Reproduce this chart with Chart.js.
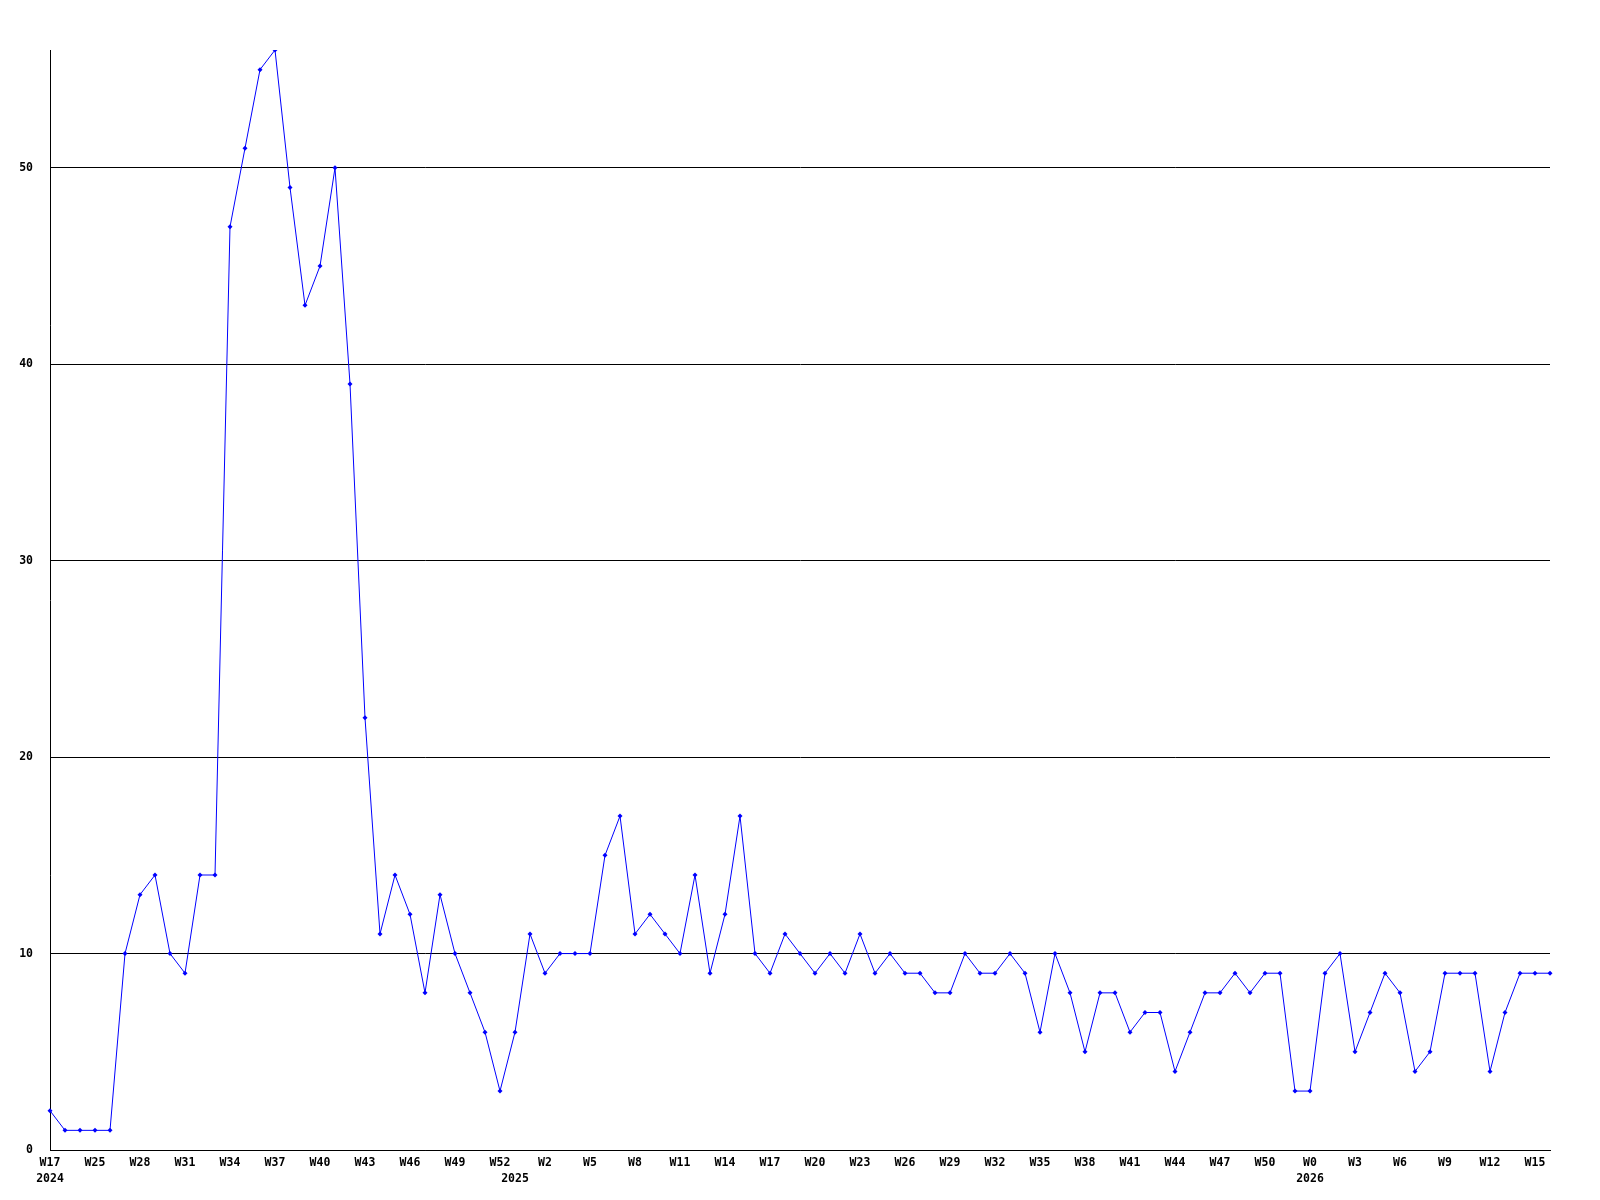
<!DOCTYPE html>
<html>
<head>
<meta charset="utf-8">
<script src="https://cdn.jsdelivr.net/npm/chart.js@4/dist/chart.umd.min.js"></script>
<style>
  body { margin: 0; background: #fff; }
  #chart { display: block; }
</style>
</head>
<body>
<canvas id="chart" width="1600" height="1200"></canvas>
<script>
var weeks = [
  "W17", "W23", "W24", "W25", "W26", "W27", "W28", "W29", "W30", "W31",
  "W32", "W33", "W34", "W35", "W36", "W37", "W38", "W39", "W40", "W41",
  "W42", "W43", "W44", "W45", "W46", "W47", "W48", "W49", "W50", "W51",
  "W52", "W0", "W1", "W2", "W3", "W4", "W5", "W6", "W7", "W8",
  "W9", "W10", "W11", "W12", "W13", "W14", "W15", "W16", "W17", "W18",
  "W19", "W20", "W21", "W22", "W23", "W24", "W25", "W26", "W27", "W28",
  "W29", "W30", "W31", "W32", "W33", "W34", "W35", "W36", "W37", "W38",
  "W39", "W40", "W41", "W42", "W43", "W44", "W45", "W46", "W47", "W48",
  "W49", "W50", "W51", "W52", "W0", "W1", "W2", "W3", "W4", "W5",
  "W6", "W7", "W8", "W9", "W10", "W11", "W12", "W13", "W14", "W15",
  "W16"
];

var counts = [
  2, 1, 1, 1, 1, 10, 13, 14, 10, 9,
  14, 14, 47, 51, 55, 56, 49, 43, 45, 50,
  39, 22, 11, 14, 12, 8, 13, 10, 8, 6,
  3, 6, 11, 9, 10, 10, 10, 15, 17, 11,
  12, 11, 10, 14, 9, 12, 17, 10, 9, 11,
  10, 9, 10, 9, 11, 9, 10, 9, 9, 8,
  8, 10, 9, 9, 10, 9, 6, 10, 8, 5,
  8, 8, 6, 7, 7, 4, 6, 8, 8, 9,
  8, 9, 9, 3, 3, 9, 10, 5, 7, 9,
  8, 4, 5, 9, 9, 9, 4, 7, 9, 9,
  9
];

var yearTickIndex = [0, 31, 84];
var yearTickText = ["2024", "2025", "2026"];
var yTicks = [0, 10, 20, 30, 40, 50];

var tickFont = { family: "'DejaVu Sans Mono', monospace", size: 11.5, weight: 'bold', lineHeight: 1.4 };

var ctx = document.getElementById("chart");

var chart = new Chart(ctx, {
  type: 'line',
  data: {
    labels: weeks,
    datasets: [{
      data: counts,
      borderColor: '#0000ff',
      backgroundColor: '#0000ff',
      borderWidth: 1,
      tension: 0,
      pointStyle: 'rectRot',
      pointRadius: 2.5,
      pointBorderWidth: 0,
      pointBackgroundColor: '#0000ff',
      fill: false
    }]
  },
  options: {
    responsive: false,
    animation: false,
    layout: { padding: { top: 50, right: 50, left: 0, bottom: 0 } },
    plugins: {
      legend: { display: false },
      tooltip: { enabled: false }
    },
    scales: {
      x: {
        offset: false,
        grid: { display: false, drawTicks: false, tickLength: 0 },
        border: { display: true, color: '#000', width: 1 },
        ticks: {
          autoSkip: false,
          maxRotation: 0,
          minRotation: 0,
          padding: 5,
          color: '#000',
          font: tickFont,
          callback: function (value, i) {
            var yi = yearTickIndex.indexOf(i);
            var wk = (i % 3 === 0) ? weeks[i] : '';
            if (yi >= 0) return [wk, yearTickText[yi]];
            return wk;
          }
        },
        afterFit: function (scale) { scale.height = 50; }
      },
      y: {
        min: 0,
        max: 56,
        grid: { color: '#000', lineWidth: 1, drawTicks: false, tickLength: 0 },
        border: { display: true, color: '#000', width: 1 },
        ticks: {
          stepSize: 10,
          padding: 17,
          color: '#000',
          font: tickFont
        },
        afterBuildTicks: function (scale) {
          scale.ticks = yTicks.map(function (v) { return { value: v }; });
        },
        afterFit: function (scale) { scale.width = 50; }
      }
    }
  }
});
</script>
</body>
</html>
